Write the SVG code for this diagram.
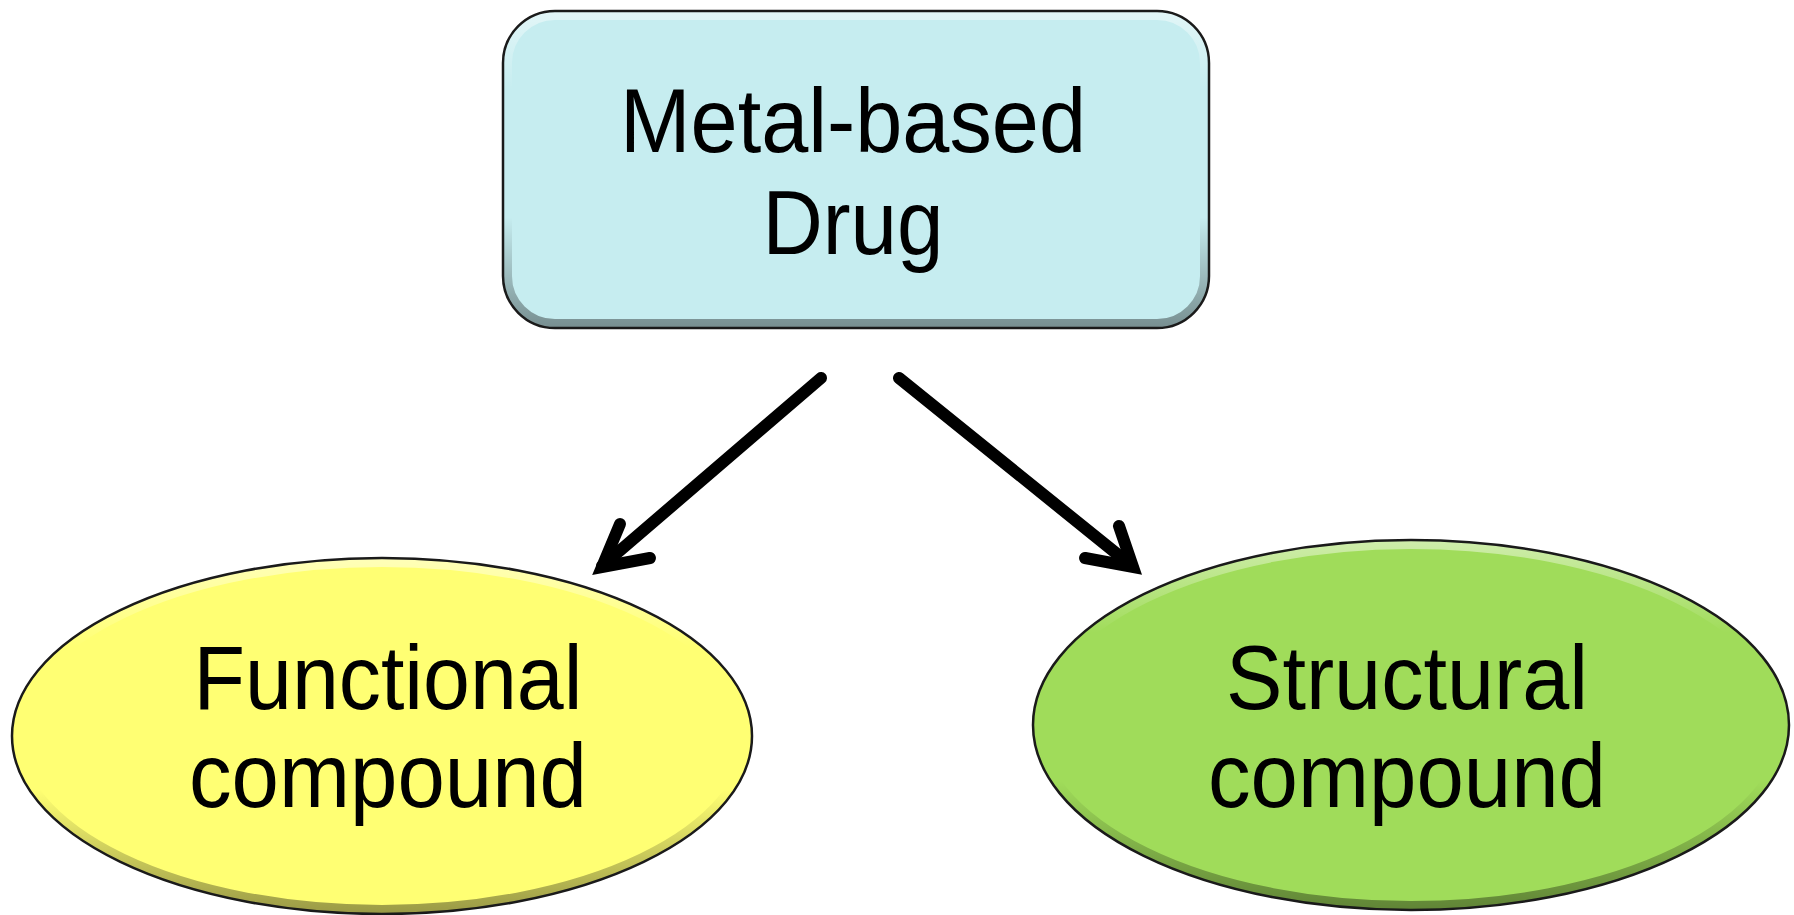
<svg xmlns="http://www.w3.org/2000/svg" width="1794" height="915" viewBox="0 0 1794 915">
  <style>
    .lbl { font-family: "Liberation Sans", Arial, sans-serif; font-size: 91px; fill: #000; text-anchor: middle; }
    .outline { fill: none; stroke: #1a1a1a; stroke-width: 2.5; }
    .bevel { fill: none; stroke: url(#bevel); stroke-width: 18; }
    .conn { fill: none; stroke: #000; stroke-width: 12; stroke-linecap: round; stroke-linejoin: miter; stroke-miterlimit: 10; }
  </style>
  <defs>
    <linearGradient id="bevel" x1="0" y1="0" x2="0" y2="1">
      <stop offset="0" stop-color="#fff" stop-opacity="0.5"/>
      <stop offset="0.25" stop-color="#fff" stop-opacity="0"/>
      <stop offset="0.65" stop-color="#000" stop-opacity="0"/>
      <stop offset="1" stop-color="#000" stop-opacity="0.4"/>
    </linearGradient>
    <clipPath id="clipTop"><rect x="503" y="11" width="706" height="317" rx="52" ry="52"/></clipPath>
    <clipPath id="clipLeft"><ellipse cx="382" cy="736" rx="370" ry="178"/></clipPath>
    <clipPath id="clipRight"><ellipse cx="1411" cy="725" rx="378" ry="185"/></clipPath>
  </defs>

  <g id="connectors">
    <path class="conn" d="M821,378 L602,566"/>
    <path class="conn" d="M620,524 L602,567 L650,558"/>
    <path class="conn" d="M899,378 L1132,566"/>
    <path class="conn" d="M1119,526 L1133,567 L1085,558"/>
  </g>

  <g id="node-metal-based-drug">
    <rect x="503" y="11" width="706" height="317" rx="52" ry="52" fill="#c6edf0"/>
    <rect class="bevel" x="503" y="11" width="706" height="317" rx="52" ry="52" clip-path="url(#clipTop)"/>
    <rect class="outline" x="503" y="11" width="706" height="317" rx="52" ry="52"/>
    <text class="lbl" x="853" y="152" textLength="466" lengthAdjust="spacingAndGlyphs">Metal-based</text>
    <text class="lbl" x="853" y="254" textLength="181" lengthAdjust="spacingAndGlyphs">Drug</text>
  </g>

  <g id="node-functional-compound">
    <ellipse cx="382" cy="736" rx="370" ry="178" fill="#ffff73"/>
    <ellipse class="bevel" cx="382" cy="736" rx="370" ry="178" clip-path="url(#clipLeft)"/>
    <ellipse class="outline" cx="382" cy="736" rx="370" ry="178"/>
    <text class="lbl" x="388" y="709" textLength="389" lengthAdjust="spacingAndGlyphs">Functional</text>
    <text class="lbl" x="388" y="807" textLength="398" lengthAdjust="spacingAndGlyphs">compound</text>
  </g>

  <g id="node-structural-compound">
    <ellipse cx="1411" cy="725" rx="378" ry="185" fill="#a0dc5a"/>
    <ellipse class="bevel" cx="1411" cy="725" rx="378" ry="185" clip-path="url(#clipRight)"/>
    <ellipse class="outline" cx="1411" cy="725" rx="378" ry="185"/>
    <text class="lbl" x="1407" y="709" textLength="362" lengthAdjust="spacingAndGlyphs">Structural</text>
    <text class="lbl" x="1407" y="807" textLength="398" lengthAdjust="spacingAndGlyphs">compound</text>
  </g>
</svg>
